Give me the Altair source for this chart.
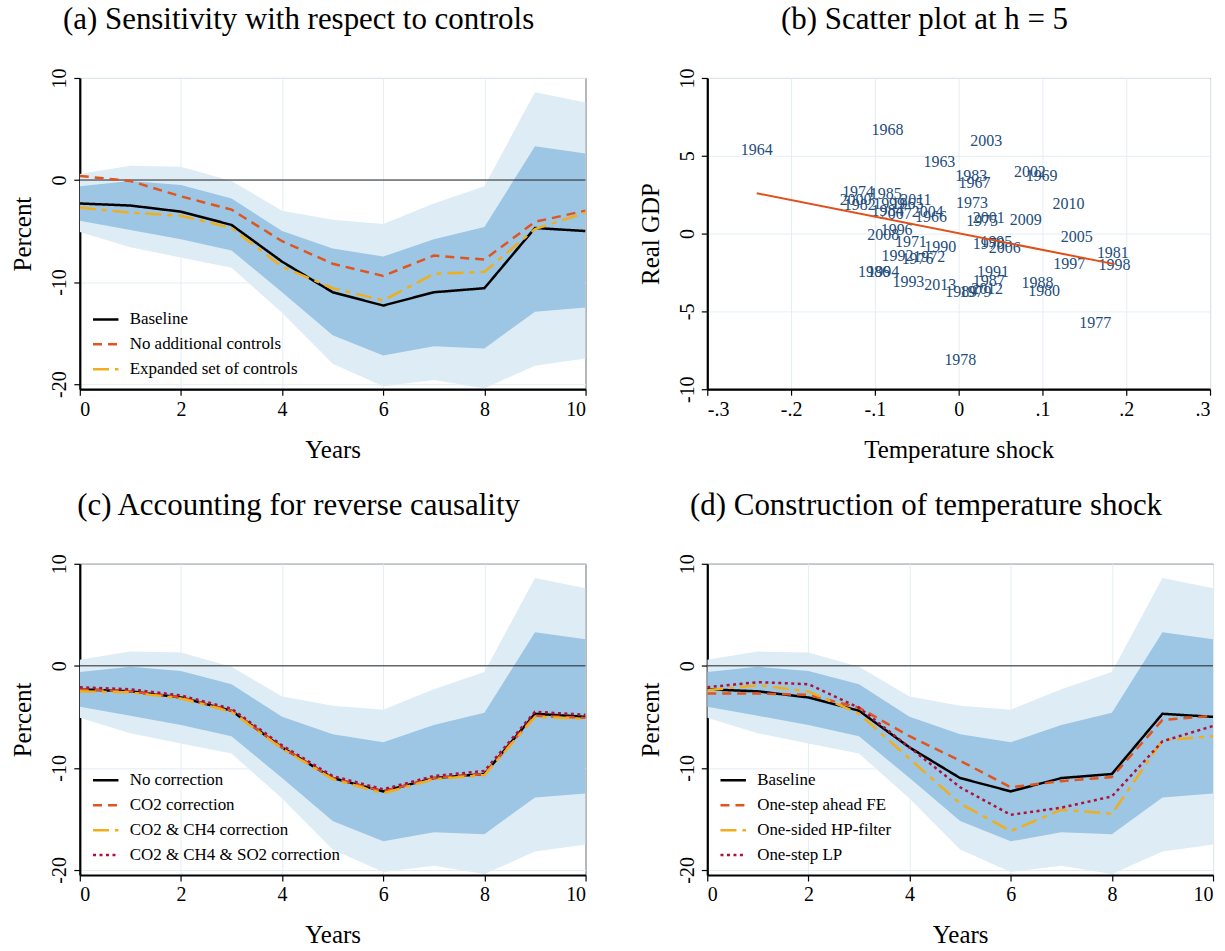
import altair as alt
import pandas as pd

FONT = "Liberation Serif"

# ---------------- data ----------------
H = list(range(11))
baseline = [-2.3, -2.5, -3.1, -4.4, -8.0, -11.0, -12.3, -11.0, -10.6, -4.7, -5.0]
no_controls = [0.4, -0.1, -1.6, -2.9, -6.0, -8.2, -9.4, -7.4, -7.8, -4.1, -3.0]
expanded = [-2.7, -3.2, -3.5, -4.7, -8.5, -10.6, -11.8, -9.2, -9.0, -4.8, -3.2]

band68_hi = [-0.6, -0.1, -0.5, -1.8, -5.0, -6.7, -7.5, -5.8, -4.6, 3.3, 2.6]
band68_lo = [-4.0, -4.9, -5.8, -6.9, -11.0, -15.2, -17.2, -16.3, -16.5, -12.9, -12.5]
band90_hi = [0.6, 1.4, 1.3, -0.1, -3.0, -3.9, -4.3, -2.3, -0.6, 8.6, 7.6]
band90_lo = [-5.1, -6.6, -7.6, -8.6, -13.0, -18.0, -20.2, -19.6, -20.4, -18.2, -17.5]

co2 = [-2.3, -2.5, -3.1, -4.4, -8.0, -11.0, -12.3, -11.0, -10.6, -4.9, -5.1]
co2_ch4 = [-2.5, -2.6, -3.2, -4.5, -8.1, -11.1, -12.5, -11.1, -10.7, -5.0, -5.2]
co2_ch4_so2 = [-2.1, -2.3, -2.9, -4.2, -7.8, -10.8, -12.1, -10.8, -10.3, -4.5, -4.8]

one_step_fe = [-2.7, -2.7, -2.85, -4.1, -6.9, -9.3, -11.9, -11.3, -10.9, -5.3, -4.9]
hp_filter = [-2.4, -1.9, -2.5, -4.7, -9.1, -13.5, -16.2, -14.1, -14.5, -7.3, -6.9]
one_step_lp = [-2.1, -1.6, -1.8, -4.1, -8.0, -11.9, -14.6, -13.9, -12.8, -7.4, -5.9]

years = [1963, 1964, 1965, 1966, 1967, 1968, 1969, 1970, 1971, 1972, 1973, 1974,
         1975, 1976, 1977, 1978, 1979, 1980, 1981, 1982, 1983, 1984, 1985, 1986,
         1987, 1988, 1989, 1990, 1991, 1992, 1993, 1994, 1995, 1996, 1997, 1998,
         1999, 2000, 2001, 2002, 2003, 2004, 2005, 2006, 2007, 2008, 2009, 2010,
         2011, 2012, 2013]
temp_shock = [-0.023, -0.241, -0.061, -0.033, 0.019, -0.085, 0.099, 0.036, -0.057, -0.035,
              0.016, -0.120, 0.028, -0.049, 0.163, 0.002, 0.020, 0.102, 0.184, -0.118,
              0.015, -0.085, -0.087, -0.101, 0.036, 0.094, 0.003, -0.022, 0.041, -0.073,
              -0.060, -0.090, 0.045, -0.074, 0.132, 0.186, -0.083, -0.123, 0.036, 0.085,
              0.033, -0.037, 0.141, 0.055, -0.075, -0.090, 0.080, 0.131, -0.051, 0.034,
              -0.022]
real_gdp = [4.62, 5.38, 1.91, 1.06, 3.26, 6.67, 3.71, -0.64, -0.57, -1.48,
            1.97, 2.65, 0.80, -1.63, -5.76, -8.11, -3.77, -3.71, -1.27, 1.86,
            3.69, 1.42, 2.54, -2.50, -3.07, -3.18, -3.77, -0.89, -2.44, -1.42,
            -3.09, -2.48, -0.53, 0.21, -1.95, -1.99, 1.91, 2.16, 1.00, 3.98,
            5.97, 1.38, -0.25, -0.93, 1.27, -0.11, 0.89, 1.91, 2.16, -3.56,
            -3.31]

LIGHT = "#deecf6"
DARK = "#9cc6e4"
BLACK = "#000000"
ORANGE = "#e0541e"
YELLOW = "#f0ae1c"
MAROON = "#b0103a"
NAVY = "#234d79"

W, HGT = 507, 312
TITLE_SIZE = 31
TITLE_OFFSET = 32
INT_LABEL = "replace(format(datum.value, 'd'), '\u2212', '-')"


def irf_panel(title, names, series, colors, dashes):
    rows = []
    for n, v in zip(names, series):
        for h, val in zip(H, v):
            rows.append({"h": h, "series": n, "value": val})
    lines_df = pd.DataFrame(rows)
    band_df = pd.DataFrame({"h": H, "lo90": band90_lo, "hi90": band90_hi,
                            "lo68": band68_lo, "hi68": band68_hi})
    xs = alt.Scale(domain=[0, 10], nice=False, zero=False)
    ys = alt.Scale(domain=[-20.5, 10], nice=False, zero=False)
    xax = alt.Axis(values=[0, 2, 4, 6, 8, 10], title="Years", format="d")
    yax = alt.Axis(values=[-20, -10, 0, 10], title="Percent", labelExpr=INT_LABEL)

    light = alt.Chart(band_df).mark_area(color=LIGHT, clip=True).encode(
        x=alt.X("h:Q", scale=xs, axis=xax),
        y=alt.Y("lo90:Q", scale=ys, axis=yax),
        y2="hi90:Q")
    dark = alt.Chart(band_df).mark_area(color=DARK, clip=True).encode(
        x=alt.X("h:Q", scale=xs, axis=xax),
        y=alt.Y("lo68:Q", scale=ys, axis=yax),
        y2="hi68:Q")
    zero = alt.Chart(pd.DataFrame({"z": [0]})).mark_rule(
        color="#222222", strokeWidth=1).encode(y=alt.Y("z:Q", scale=ys, axis=yax))
    leg = alt.Legend(title=None, orient="bottom-left", offset=10,
                     symbolType="stroke", symbolSize=650, symbolStrokeWidth=2.5,
                     labelFont=FONT, labelFontSize=17, labelColor="black",
                     labelLimit=0, rowPadding=3, labelOffset=10, padding=2)
    lines = alt.Chart(lines_df).mark_line(strokeWidth=2.5, clip=True).encode(
        x=alt.X("h:Q", scale=xs, axis=xax),
        y=alt.Y("value:Q", scale=ys, axis=yax),
        color=alt.Color("series:N", scale=alt.Scale(domain=names, range=colors),
                        sort=names, legend=leg),
        strokeDash=alt.StrokeDash("series:N", scale=alt.Scale(domain=names, range=dashes),
                                  sort=names, legend=leg))
    return alt.layer(light, dark, zero, lines).properties(
        width=W, height=HGT,
        title=alt.TitleParams(title, font=FONT, fontSize=TITLE_SIZE, fontWeight="normal",
                              color="black", offset=TITLE_OFFSET, frame="bounds"))


SOLID = [1, 0]
DASH = [9, 6]
LONGDASH = [16, 6, 5, 6]
DOT = [3, 3.5]

pa = irf_panel("(a) Sensitivity with respect to controls",
               ["Baseline", "No additional controls", "Expanded set of controls"],
               [baseline, no_controls, expanded],
               [BLACK, ORANGE, YELLOW], [SOLID, DASH, LONGDASH])
pc = irf_panel("(c) Accounting for reverse causality",
               ["No correction", "CO2 correction", "CO2 & CH4 correction",
                "CO2 & CH4 & SO2 correction"],
               [baseline, co2, co2_ch4, co2_ch4_so2],
               [BLACK, ORANGE, YELLOW, MAROON], [SOLID, DASH, LONGDASH, DOT])
pd_ = irf_panel("(d) Construction of temperature shock",
                ["Baseline", "One-step ahead FE", "One-sided HP-filter", "One-step LP"],
                [baseline, one_step_fe, hp_filter, one_step_lp],
                [BLACK, ORANGE, YELLOW, MAROON], [SOLID, DASH, LONGDASH, DOT])

sc_df = pd.DataFrame({"year": [str(y) for y in years], "shock": temp_shock, "gdp": real_gdp})
sxs = alt.Scale(domain=[-0.3, 0.3], nice=False, zero=False)
sys_ = alt.Scale(domain=[-10, 10], nice=False, zero=False)
sxax = alt.Axis(values=[-0.3, -0.2, -0.1, 0, 0.1, 0.2, 0.3], title="Temperature shock",
                labelExpr="datum.value == 0 ? '0' : replace(replace(format(datum.value, '.1f'), '0.', '.'), '\u2212', '-')")
syax = alt.Axis(values=[-10, -5, 0, 5, 10], title="Real GDP", labelExpr=INT_LABEL)
txt = alt.Chart(sc_df).mark_text(font=FONT, fontSize=16, color=NAVY).encode(
    x=alt.X("shock:Q", scale=sxs, axis=sxax),
    y=alt.Y("gdp:Q", scale=sys_, axis=syax),
    text="year:N")
reg = alt.Chart(sc_df).transform_regression("shock", "gdp").mark_line(
    color="#e0501a", strokeWidth=2).encode(
    x=alt.X("shock:Q", scale=sxs, axis=sxax),
    y=alt.Y("gdp:Q", scale=sys_, axis=syax))
pb = alt.layer(txt, reg).properties(
    width=504, height=HGT,
    title=alt.TitleParams("(b) Scatter plot at h = 5", font=FONT, fontSize=TITLE_SIZE,
                          fontWeight="normal", color="black", offset=TITLE_OFFSET,
                          frame="bounds"))

row1 = alt.hconcat(pa, pb, spacing=50).resolve_scale(color="independent", strokeDash="independent")
row2 = alt.hconcat(pc, pd_, spacing=50).resolve_scale(color="independent", strokeDash="independent")

chart = alt.vconcat(row1, row2, spacing=26).resolve_scale(
    color="independent", strokeDash="independent"
).properties(
    padding={"left": 10, "top": 2, "right": 10, "bottom": 2},
    background="white",
).configure_view(
    stroke="black", strokeWidth=1
).configure_axis(
    domainColor="black", domainWidth=2.2, tickColor="black", tickWidth=1.2, tickSize=6,
    labelFont=FONT, labelFontSize=20, labelColor="black",
    titleFont=FONT, titleFontSize=25, titleFontWeight="normal", titleColor="black",
    gridColor="#e4eef3", gridWidth=1, labelPadding=4,
).configure_axisY(
    labelAngle=270, labelAlign="center", labelBaseline="bottom", titlePadding=14
).configure_axisX(
    titlePadding=18
)

chart.save("out.html", embed_options={"renderer": "svg", "actions": False})
